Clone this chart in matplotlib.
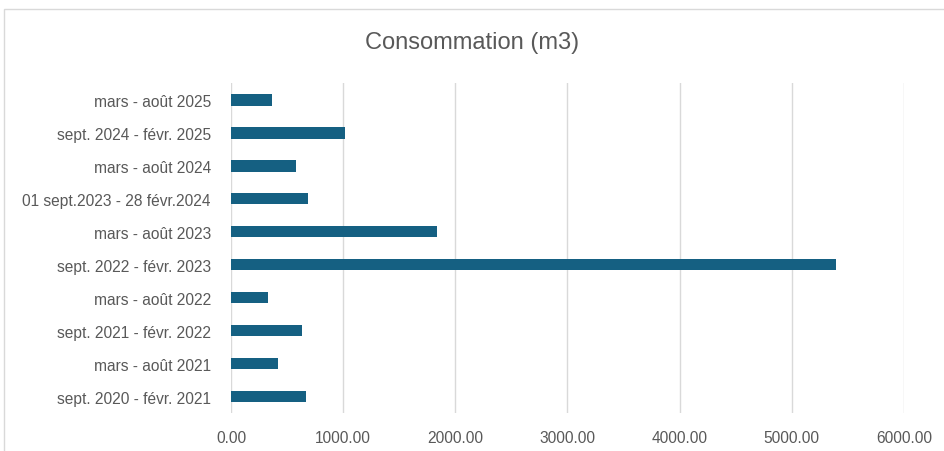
import matplotlib.pyplot as plt
from matplotlib.patches import Rectangle
from matplotlib.ticker import FormatStrFormatter

# periods listed bottom to top
periods = [
    "sept. 2020 - févr. 2021",
    "mars - août 2021",
    "sept. 2021 - févr. 2022",
    "mars - août 2022",
    "sept. 2022 - févr. 2023",
    "mars - août 2023",
    "01 sept.2023 - 28 févr.2024",
    "mars - août 2024",
    "sept. 2024 - févr. 2025",
    "mars - août 2025",
]
consommation = [672, 422, 631, 327, 5390, 1836, 685, 580, 1015, 369]
x_ticks = [0, 1000, 2000, 3000, 4000, 5000, 6000]

plt.rcParams["font.family"] = ["Liberation Sans", "DejaVu Sans"]
text_color = "#595959"
grid_color = "#d9d9d9"

fig = plt.figure(figsize=(9.45, 4.52), dpi=100)
ax = fig.add_axes([0.2444, 0.084, 0.9566 - 0.2444, 0.8135 - 0.084])

# chart border
fig.patches.append(Rectangle((4 / 945, -0.1), 1.0, 1 - 10 / 452 + 0.1,
                             transform=fig.transFigure, fill=False,
                             edgecolor=grid_color, linewidth=1))

ax.barh(range(len(periods)), consommation, height=0.35, color="#156082", zorder=3)

ax.set_xlim(0, 6000)
ax.set_ylim(-0.5, len(periods) - 0.5)
ax.set_xticks(x_ticks)
ax.xaxis.set_major_formatter(FormatStrFormatter("%.2f"))
ax.set_yticks(range(len(periods)))
ax.set_yticklabels(periods)

ax.grid(axis="x", color=grid_color, linewidth=1, zorder=0)
for s in ax.spines.values():
    s.set_visible(False)
ax.tick_params(axis="both", length=0, labelsize=11.2, labelcolor=text_color)
ax.tick_params(axis="y", pad=14.5)
ax.tick_params(axis="x", pad=12)

fig.text(0.5, 1 - 43 / 452, "Consommation (m3)", ha="center", va="center",
         fontsize=17, color=text_color)

fig.savefig("out.png", dpi=100)
